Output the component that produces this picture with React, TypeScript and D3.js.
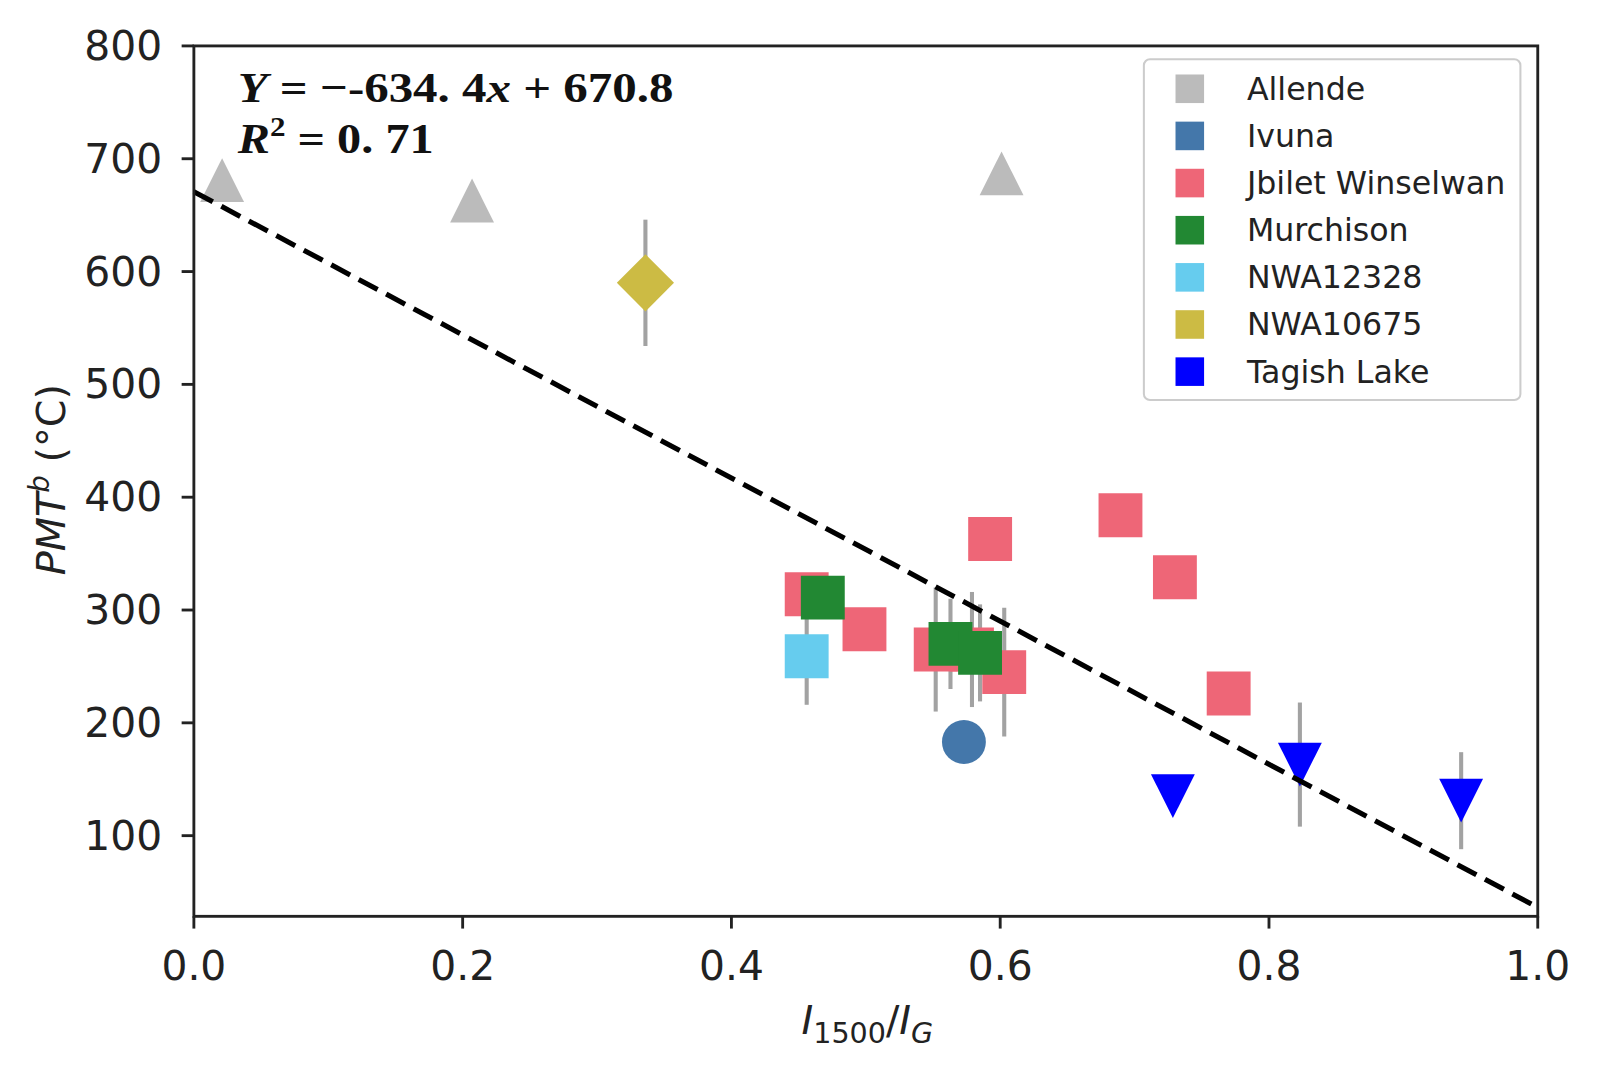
import React from 'react';
import * as d3 from 'd3';

// series, values
const allendeX = [0.021, 0.207, 0.601];
const allendeY = [681, 663, 687];

const ivunaX = [0.573];
const ivunaY = [183];

const jbiletX = [0.456, 0.499, 0.552, 0.579, 0.603, 0.5925, 0.6895, 0.73, 0.77];
const jbiletY = [314, 283, 265, 265, 245, 363, 384, 329, 226];
const jbiletErr = [0, 0, 55, 51, 57, 0, 0, 0, 0];

const murchisonX = [0.468, 0.563, 0.585];
const murchisonY = [311, 270, 262];
const murchisonErr = [0, 40, 43];

const nwa12328X = [0.456];
const nwa12328Y = [259];
const nwa12328Err = [43];

const nwa10675X = [0.336];
const nwa10675Y = [590];
const nwa10675Err = [56];

const tagishX = [0.7285, 0.823, 0.943];
const tagishY = [135, 163, 131];
const tagishErr = [8, 55, 43];

// fit from the chart's annotation
const slope = -634.4;
const intercept = 670.8;

const xTicks = [0, 0.2, 0.4, 0.6, 0.8, 1.0];
const yTicks = [100, 200, 300, 400, 500, 600, 700, 800];

type Marker = 'triUp' | 'triDown' | 'square' | 'circle' | 'diamond';

interface Series {
  name: string;
  color: string;
  marker: Marker;
  xs: number[];
  ys: number[];
  errs?: number[];
}

const series: Series[] = [
  { name: 'Allende', color: '#bbbbbb', marker: 'triUp', xs: allendeX, ys: allendeY },
  { name: 'Ivuna', color: '#4477aa', marker: 'circle', xs: ivunaX, ys: ivunaY },
  { name: 'Jbilet Winselwan', color: '#ee6677', marker: 'square', xs: jbiletX, ys: jbiletY, errs: jbiletErr },
  { name: 'Murchison', color: '#228833', marker: 'square', xs: murchisonX, ys: murchisonY, errs: murchisonErr },
  { name: 'NWA12328', color: '#66ccee', marker: 'square', xs: nwa12328X, ys: nwa12328Y, errs: nwa12328Err },
  { name: 'NWA10675', color: '#ccbb44', marker: 'diamond', xs: nwa10675X, ys: nwa10675Y, errs: nwa10675Err },
  { name: 'Tagish Lake', color: '#0000ff', marker: 'triDown', xs: tagishX, ys: tagishY, errs: tagishErr },
];

const W = 1600;
const H = 1071;
// layout is laid out on a 1568-wide grid, then scaled up to the page
const k = W / 1568;
const left = 190;
const right = 1507;
const top = 45;
const bottom = 898;

const sans = '"DejaVu Sans", sans-serif';
const serif = '"Liberation Serif", "DejaVu Serif", serif';

function markerPath(m: Marker): string {
  const h = 21.5;
  switch (m) {
    case 'triUp':
      return `M0,${-h}L${h},${h}L${-h},${h}Z`;
    case 'triDown':
      return `M0,${h}L${h},${-h}L${-h},${-h}Z`;
    case 'diamond':
      return 'M0,-28L28,0L0,28L-28,0Z';
    case 'circle':
      return d3.symbol(d3.symbolCircle, Math.PI * h * h)() as string;
    default:
      return `M${-h},${-h}H${h}V${h}H${-h}Z`;
  }
}

export default function App() {
  const x = d3.scaleLinear().domain([0, 1]).range([left, right]);
  const y = d3.scaleLinear().domain([28.5, 800]).range([bottom, top]);

  const fitLine = d3
    .line<number>()
    .x(d => x(d))
    .y(d => y(slope * d + intercept));

  return (
    <svg
      width={W}
      height={H}
      style={{ position: 'absolute', left: 0, top: 0, background: '#fff' }}
    >
      <rect x={0} y={0} width={W} height={H} fill="#fff" />
      <g transform={`scale(${k})`}>
        {/* error bars under the markers */}
        <g stroke="#a2a2a2" strokeWidth={4}>
          {series.map(s =>
            s.errs
              ? s.xs.map((xv, i) =>
                  s.errs![i] > 0 ? (
                    <line
                      key={`${s.name}-e${i}`}
                      x1={x(xv)}
                      x2={x(xv)}
                      y1={y(s.ys[i] - s.errs![i])}
                      y2={y(s.ys[i] + s.errs![i])}
                    />
                  ) : null
                )
              : null
          )}
        </g>

        {/* markers */}
        {series.map(s => (
          <g key={s.name} fill={s.color}>
            {s.xs.map((xv, i) => (
              <path
                key={i}
                d={markerPath(s.marker)}
                transform={`translate(${x(xv)},${y(s.ys[i])})`}
              />
            ))}
          </g>
        ))}

        {/* regression line */}
        <path
          d={fitLine([0, 1]) as string}
          fill="none"
          stroke="#000"
          strokeWidth={5}
          strokeDasharray="21 9.5"
        />

        {/* frame */}
        <rect
          x={left}
          y={top}
          width={right - left}
          height={bottom - top}
          fill="none"
          stroke="#222"
          strokeWidth={2.8}
        />

        {/* y axis */}
        <g fontFamily={sans} fontSize={40} fill="#222">
          {yTicks.map(t => (
            <g key={t}>
              <line x1={left - 12} x2={left} y1={y(t)} y2={y(t)} stroke="#222" strokeWidth={2.8} />
              <text x={left - 31} y={y(t)} textAnchor="end" dominantBaseline="central">
                {t}
              </text>
            </g>
          ))}
        </g>

        {/* x axis */}
        <g fontFamily={sans} fontSize={40} fill="#222">
          {xTicks.map(t => (
            <g key={t}>
              <line x1={x(t)} x2={x(t)} y1={bottom} y2={bottom + 12} stroke="#222" strokeWidth={2.8} />
              <text x={x(t)} y={960} textAnchor="middle">
                {t.toFixed(1)}
              </text>
            </g>
          ))}
        </g>

        {/* axis labels */}
        <text
          x={850}
          y={1013}
          textAnchor="middle"
          fontFamily={sans}
          fontSize={39}
          fill="#222"
        >
          <tspan fontStyle="italic">I</tspan>
          <tspan fontSize={28} dy={9}>1500</tspan>
          <tspan dy={-9}>/</tspan>
          <tspan fontStyle="italic">I</tspan>
          <tspan fontSize={28} dy={9} fontStyle="italic">G</tspan>
        </text>

        <text
          transform="translate(64,470) rotate(-90)"
          textAnchor="middle"
          fontFamily={sans}
          fontSize={39}
          fill="#222"
        >
          <tspan fontStyle="italic">PMT</tspan>
          <tspan fontStyle="italic" fontSize={27} dy={-16}>b</tspan>
          <tspan dy={16}> (°C)</tspan>
        </text>

        {/* equation */}
        <g fontFamily={serif} fontWeight="bold" fontSize={42} fill="#111">
          <text x={233} y={100} textLength={427} lengthAdjust="spacingAndGlyphs">
            <tspan fontStyle="italic">Y</tspan>
            <tspan> = −-634. 4</tspan>
            <tspan fontStyle="italic">x</tspan>
            <tspan> + 670.8</tspan>
          </text>
          <text x={233} y={150} textLength={192} lengthAdjust="spacingAndGlyphs">
            <tspan fontStyle="italic">R</tspan>
            <tspan fontSize={27} dy={-17}>2</tspan>
            <tspan dy={17}> = 0. 71</tspan>
          </text>
        </g>

        {/* legend */}
        <rect
          x={1121}
          y={58}
          width={369}
          height={334}
          rx={6}
          fill="#fff"
          fillOpacity={0.8}
          stroke="#cccccc"
          strokeWidth={2}
        />
        <g fontFamily={sans} fontSize={31} fill="#222">
          {series.map((s, i) => {
            const cy = 87 + i * 46.2;
            return (
              <g key={s.name}>
                <rect x={1152} y={cy - 14} width={28} height={28} fill={s.color} />
                <text x={1222} y={cy} dominantBaseline="central">
                  {s.name}
                </text>
              </g>
            );
          })}
        </g>
      </g>
    </svg>
  );
}
